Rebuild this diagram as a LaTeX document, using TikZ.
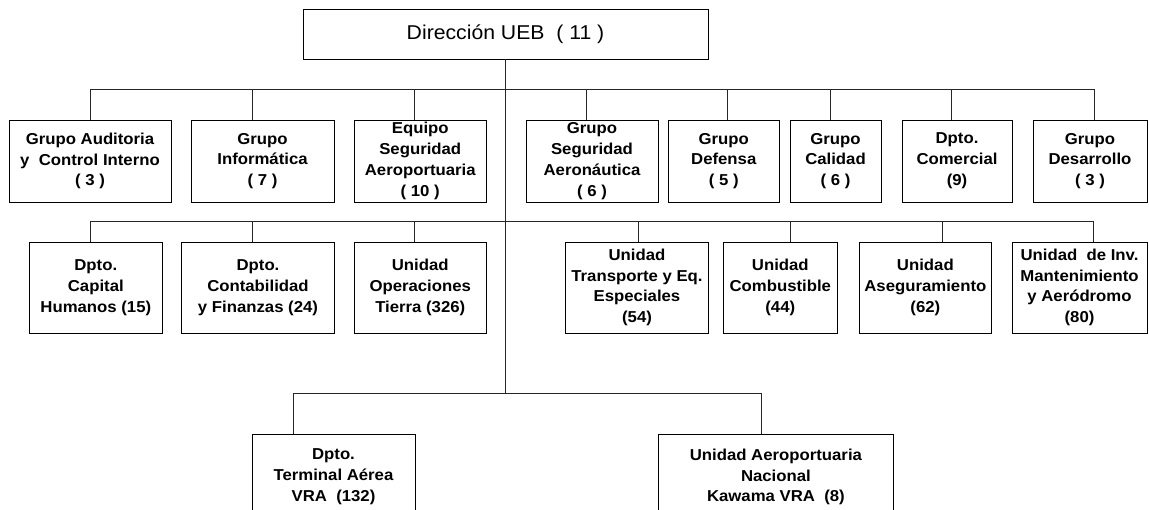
\documentclass[tikz,border=0pt]{standalone}
\usepackage{fontspec}
\setmainfont{Liberation Sans}[FakeStretch=1.06]
\begin{document}
\begin{tikzpicture}[x=1pt,y=-1pt,
  box/.style={draw=black, line width=0.9pt, fill=white, align=center, inner sep=0pt,
    font=\fontsize{15.8}{20.8}\selectfont\bfseries},
  topbox/.style={draw=black, line width=0.9pt, fill=white, align=center, inner sep=0pt,
    font=\fontsize{20}{24}\selectfont},
  link/.style={draw=black!85, line width=0.9pt}]
\useasboundingbox (0,0) rectangle (1149,510);
\clip (0,0) rectangle (1149,510);
\fill[white] (0,0) rectangle (1149,510);

% top
\node[topbox, minimum width=405, minimum height=50] (top) at (505.5,34) {Dirección UEB\ \ ( 11 )};

% row 1
\node[box, minimum width=162, minimum height=82] (r1a) at (90,161) {Grupo Auditoria\\y\ \ Control Interno\\( 3 )};
\node[box, minimum width=143, minimum height=82] (r1b) at (262.5,161) {Grupo\\Informática\\( 7 )};
\node[box, minimum width=132.5, minimum height=82] (r1c) at (420.25,161) {Equipo\\Seguridad\\Aeroportuaria\\( 10 )};
\node[box, minimum width=132, minimum height=82] (r1d) at (592,161) {Grupo\\Seguridad\\Aeronáutica\\( 6 )};
\node[box, minimum width=111.5, minimum height=82] (r1e) at (723.75,161) {Grupo\\Defensa\\( 5 )};
\node[box, minimum width=91, minimum height=82] (r1f) at (835.5,161) {Grupo\\Calidad\\( 6 )};
\node[box, minimum width=110, minimum height=82] (r1g) at (957,161) {Dpto.\\Comercial\\(9)};
\node[box, minimum width=114, minimum height=82] (r1h) at (1090,161) {Grupo\\Desarrollo\\( 3 )};

% row 2
\node[box, minimum width=132.4, minimum height=91] (r2a) at (95.8,287.5) {Dpto.\\Capital\\Humanos (15)};
\node[box, minimum width=152.8, minimum height=91] (r2b) at (258,287.5) {Dpto.\\Contabilidad\\y Finanzas (24)};
\node[box, minimum width=132.5, minimum height=91] (r2c) at (420.25,287.5) {Unidad\\Operaciones\\Tierra (326)};
\node[box, minimum width=142.8, minimum height=91] (r2d) at (637,287.5) {Unidad\\Transporte y Eq.\\Especiales\\(54)};
\node[box, minimum width=113.8, minimum height=91] (r2e) at (780.3,287.5) {Unidad\\Combustible\\(44)};
\node[box, minimum width=131.9, minimum height=91] (r2f) at (925.35,287.5) {Unidad\\Aseguramiento\\(62)};
\node[box, minimum width=135, minimum height=91] (r2g) at (1079.5,287.5) {Unidad\ \ de Inv.\\Mantenimiento\\y Aeródromo\\(80)};

% bottom row
\node[box, minimum width=163, minimum height=86] (r3a) at (333.5,477) {Dpto.\\Terminal Aérea\\VRA\ \ (132)};
\node[box, minimum width=234.6, minimum height=86] (r3b) at (775.9,477) {Unidad Aeroportuaria\\Nacional\\Kawama VRA\ \ (8)};

% buses
\coordinate (bus1L) at (90.6,89.5);
\coordinate (bus1R) at (1094,89.5);
\coordinate (bus2L) at (90.6,221.5);
\coordinate (bus2R) at (1093.5,221.5);
\coordinate (bus3L) at (293.5,393);
\coordinate (bus3R) at (761.3,393);

\draw[link] (top.south) -- (top.south |- bus3L);
\draw[link] (bus1L) -- (bus1R);
\draw[link] (bus2L) -- (bus2R);
\draw[link] (bus3L) -- (bus3R);

\foreach \n/\x in {r1a/90.6, r1b/252, r1c/414, r1d/586.6, r1e/727.7, r1f/830.7, r1g/951.8, r1h/1094}
  \draw[link] (\x,89.5) coordinate (tmp) -- (tmp |- \n.north);
\foreach \n/\x in {r2a/90.6, r2b/252, r2c/414, r2d/638, r2e/790, r2f/942, r2g/1093.5}
  \draw[link] (\x,221.5) coordinate (tmp) -- (tmp |- \n.north);
\draw[link] (bus3L) -- (bus3L |- r3a.north);
\draw[link] (bus3R) -- (bus3R |- r3b.north);
\end{tikzpicture}
\end{document}
